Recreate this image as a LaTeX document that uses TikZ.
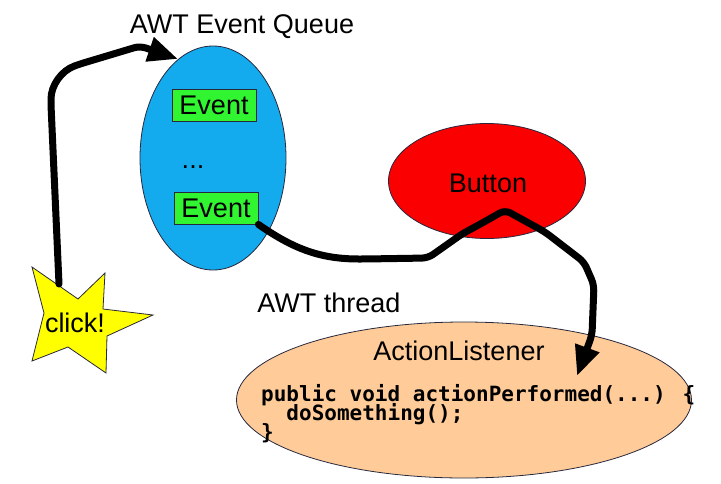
\documentclass[tikz,border=0pt]{standalone}
\usepackage{fontspec}
\setmainfont{Liberation Sans}
\newfontfamily\codefont{DejaVu Sans Mono}
\usetikzlibrary{arrows.meta,shapes.geometric}
\definecolor{qblue}{RGB}{20,170,238}
\definecolor{evgreen}{RGB}{50,245,50}
\definecolor{btnred}{RGB}{250,0,0}
\definecolor{peach}{RGB}{255,204,153}
\definecolor{starye}{RGB}{255,255,0}
\definecolor{edge}{RGB}{40,40,60}
\begin{document}
\begin{tikzpicture}[x=1pt,y=1pt,
  lbl/.style={font=\fontsize{27}{32}\selectfont, inner sep=0pt},
  codeln/.style={font=\codefont\bfseries\fontsize{21}{20}\selectfont, inner sep=0pt, anchor=base west},
  blob/.style={ellipse, draw=edge, line width=0.8pt, inner sep=0pt},
  evbox/.style={draw=edge, line width=0.8pt, fill=evgreen, minimum width=84pt, minimum height=32pt, inner sep=0pt, font=\fontsize{27}{32}\selectfont},
  flow/.style={line width=7pt, line join=round, line cap=round, rounded corners=6pt,
    -{Triangle[length=30pt,width=24pt]}}]
\useasboundingbox (0,0) rectangle (721,-483);
% shapes
\node[blob, fill=qblue, minimum width=146pt, minimum height=224pt] (queue) at (213,-158) {};
\node[blob, fill=btnred, minimum width=197pt, minimum height=115pt] (button) at (487,-181) {};
\node[blob, fill=peach, minimum width=455pt, minimum height=156pt] (listener) at (464,-400) {};
\draw[draw=edge, line width=0.8pt, fill=starye]
  (32,-267) -- (78,-299) -- (105,-273) -- (103,-309) -- (153,-315) -- (107,-336)
  -- (106,-373) -- (68,-347) -- (32,-361) -- (44,-313) -- cycle;
% texts
\node[lbl, anchor=base] (qtitle) at (242,-33) {AWT Event Queue};
\node[evbox] (ev1) at (214,-105) {Event};
\node[lbl, anchor=base] (dots) at (193,-168) {...};
\node[evbox] (ev2) at (216,-208) {Event};
\node[lbl, anchor=base] (btntext) at (488,-192) {Button};
\node[lbl, anchor=base] (click) at (75,-332) {click!};
\node[lbl, anchor=base] (thread) at (329,-312) {AWT thread};
\node[lbl, anchor=base] (altitle) at (459,-360) {ActionListener};
\node[codeln] (code1) at (261,-401) {public void actionPerformed(...) \{};
\node[codeln] (code2) at (261,-420) {\ \ doSomething();};
\node[codeln] (code3) at (261,-439) {\}};
% connectors
\coordinate (s1) at (59,-284);
\coordinate (t1) at (178,-59);
\coordinate (t2) at (577,-376);
\draw[flow] (s1) -- (51,-105) to[out=90,in=200] (80,-64) -- (140,-46) -- (t1);
\draw[flow] (ev2.south east) to[out=-35,in=180] (365,-259) -- (428,-258) -- (462,-234)
  -- (484,-222) -- (505,-210) -- (545,-232) -- (584,-262) -- (594,-285) -- (592,-335) -- (t2);
\end{tikzpicture}
\end{document}
